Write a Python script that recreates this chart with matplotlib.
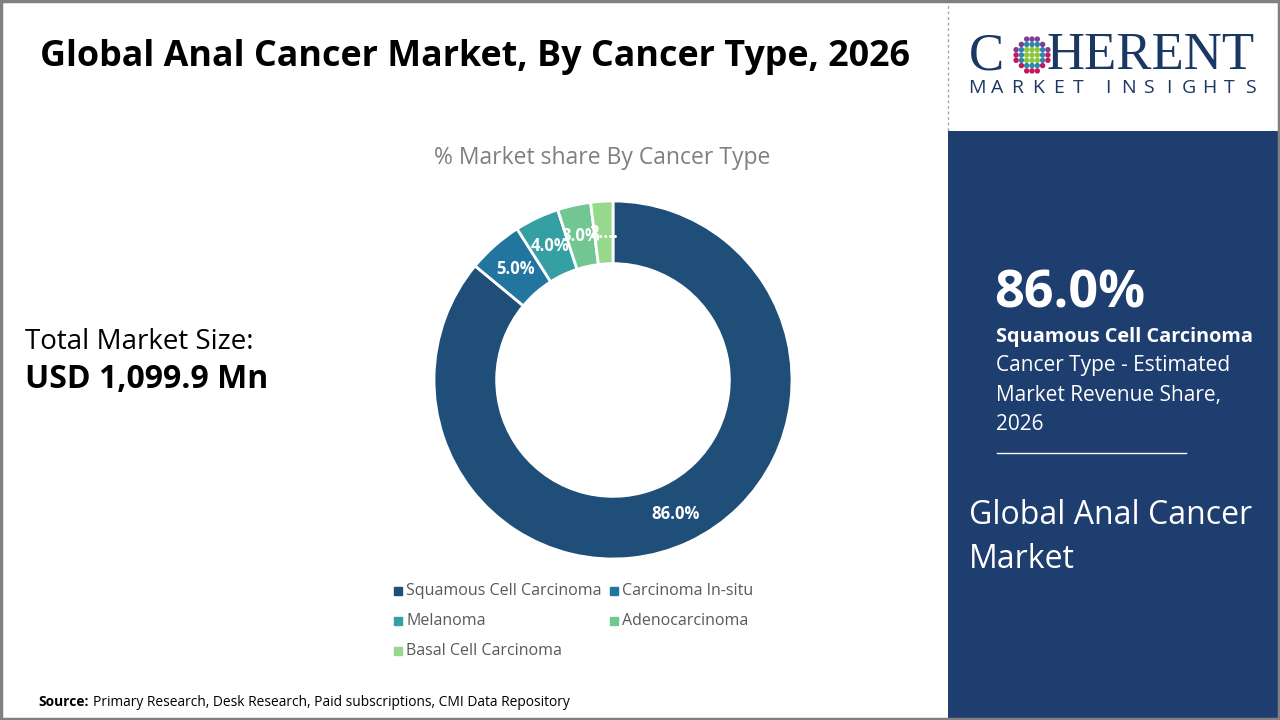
import numpy as np
import matplotlib.pyplot as plt
from matplotlib.patches import Rectangle, Ellipse
from matplotlib.lines import Line2D

# data
categories = ['Squamous Cell Carcinoma', 'Carcinoma In-situ', 'Melanoma',
              'Adenocarcinoma', 'Basal Cell Carcinoma']
shares = [86.0, 5.0, 4.0, 3.0, 2.0]
slice_labels = ['86.0%', '5.0%', '4.0%', '3.0%', '2....']
colors = ['#1f4e79', '#21759e', '#35a0a3', '#72c691', '#96d98c']

total_label = 'USD 1,099.9 Mn'
top_share = '86.0%'
top_segment = 'Squamous Cell Carcinoma'

W, H = 1280, 720
plt.rcParams['font.family'] = ['Open Sans', 'DejaVu Sans']
fig = plt.figure(figsize=(W / 100, H / 100), dpi=100)
fig.patch.set_facecolor('white')


def fx(x):
    return x / W


def fy(y):
    return 1 - y / H


# right panel
fig.patches.append(Rectangle((fx(948), 0), fx(W - 948), fy(131), transform=fig.transFigure,
                             facecolor='#1f3e70', edgecolor='none', zorder=0))
fig.lines.append(Line2D([fx(948), fx(948)], [fy(0), fy(131)], transform=fig.transFigure,
                        color='#a6a6a6', lw=1, ls=(0, (2, 2))))
# outer frame
fig.patches.append(Rectangle((0.001, 0.002), 0.998, 0.996, transform=fig.transFigure,
                             facecolor='none', edgecolor='#808080', lw=2.5, zorder=10))

# logo
serif = ['Liberation Serif', 'DejaVu Serif']
fig.text(fx(969), fy(56), 'C', fontsize=38, family=serif, color='#1b3764', ha='left', va='center')
fig.text(fx(1047), fy(56), 'HERENT', fontsize=38, family=serif, color='#1b3764',
         ha='left', va='center')
xpos = 977
for ch in 'MARKET INSIGHTS':
    if ch == ' ':
        xpos += 9
        continue
    fig.text(fx(xpos), fy(88), ch, fontsize=14, color='#1b3764', ha='center', va='center')
    xpos += 20.3
gx, gy = 1032, 55
for i in range(-3, 4):
    for j in range(-3, 4):
        if i * i + j * j > 11:
            continue
        d = np.hypot(i, j)
        c = '#8cc63f' if d < 1.5 else ('#2e86ab' if d < 2.6 else '#c2185b')
        if d >= 2.6 and j < 0:
            c = '#7b3f98'
        fig.patches.append(Ellipse((fx(gx + i * 5.3), fy(gy + j * 5.3)), 4 / W, 4 / H,
                                   transform=fig.transFigure, color=c))

# titles
fig.text(fx(40), fy(57), 'Global Anal Cancer Market, By Cancer Type, 2026', fontsize=25.8,
         fontweight='bold', color='black', ha='left', va='center')
fig.text(fx(602), fy(158), '% Market share By Cancer Type', fontsize=16.5, color='#7f7f7f',
         ha='center', va='center')
fig.text(fx(25), fy(342), 'Total Market Size:', fontsize=20, color='black', ha='left', va='center')
fig.text(fx(25), fy(380), total_label, fontsize=23, fontweight='bold', color='black',
         ha='left', va='center')

# donut
cx, cy, r = 613, 380, 179
ax = fig.add_axes([fx(cx - r), fy(cy + r), 2 * r / W, 2 * r / H])
wedges, _ = ax.pie(shares, colors=colors, startangle=90, counterclock=False, radius=1,
                   wedgeprops=dict(width=0.35, edgecolor='white', linewidth=2))
ax.set_xlim(-1, 1)
ax.set_ylim(-1, 1)
ax.set_aspect('equal')
for w, lab in zip(wedges, slice_labels):
    ang = np.deg2rad((w.theta1 + w.theta2) / 2)
    ax.text(0.825 * np.cos(ang), 0.825 * np.sin(ang), lab, color='white', fontsize=12,
            fontweight='bold', ha='center', va='center')

# legend
leg_pos = [(398, 591), (614, 591), (398, 621), (614, 621), (398, 651)]
for (lx, ly), name, c in zip(leg_pos, categories, colors):
    fig.patches.append(Rectangle((fx(lx - 4), fy(ly + 4)), 8 / W, 8 / H,
                                 transform=fig.transFigure, color=c))
    fig.text(fx(lx + 8), fy(ly), name, fontsize=11.5, color='#595959', ha='left', va='center')

# right panel text
fig.text(fx(994), fy(294), top_share, fontsize=37.5, fontweight='bold', color='white',
         ha='left', va='center')
fig.text(fx(996), fy(337), top_segment, fontsize=14.3, fontweight='bold', color='white',
         ha='left', va='center')
for k, line in enumerate(['Cancer Type - Estimated', 'Market Revenue Share,', '2026']):
    fig.text(fx(996), fy(366 + 29 * k), line, fontsize=15, color='white', ha='left', va='center')
fig.lines.append(Line2D([fx(997), fx(1186)], [fy(453), fy(453)], transform=fig.transFigure,
                        color='white', lw=1))
fig.text(fx(969), fy(516), 'Global Anal Cancer', fontsize=23, color='white', ha='left', va='center')
fig.text(fx(969), fy(560), 'Market', fontsize=23, color='white', ha='left', va='center')

# source
fig.text(fx(38), fy(702), 'Source:', fontsize=9.9, fontweight='bold', color='black',
         ha='left', va='center')
fig.text(fx(93), fy(702), 'Primary Research, Desk Research, Paid subscriptions, CMI Data Repository',
         fontsize=9.9, color='black', ha='left', va='center')

fig.savefig('out.png', dpi=100)
